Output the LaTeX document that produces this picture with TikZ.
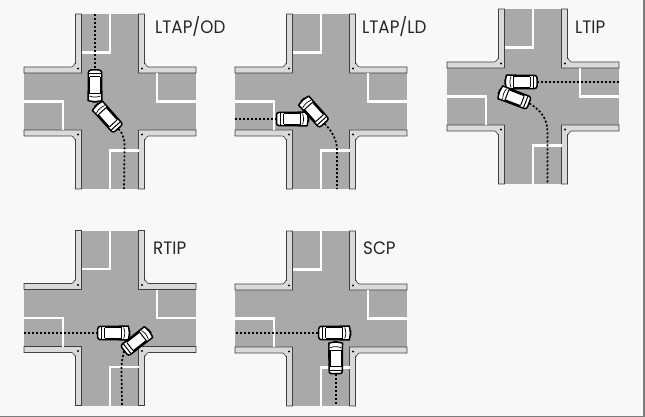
\documentclass[tikz,border=0pt]{standalone}
\usepackage{fontspec}
\setmainfont{Poppins}[FakeStretch=0.93]
\definecolor{roadgray}{HTML}{A9A9A9}
\definecolor{curbgray}{HTML}{DADADA}
\definecolor{paper}{HTML}{F8F8F8}
\definecolor{rimgray}{HTML}{7C7C7C}
\tikzset{
 stopline/.style={white,line width=2.2pt},
 curb/.style={fill=curbgray,draw=black!75,line width=0.6pt},
 track/.style={black,line width=1.7pt,dash pattern=on 2pt off 2pt},
 caselabel/.style={anchor=base west,inner sep=0pt,font=\fontsize{18}{18}\selectfont,text=black!85},
 crossing/.pic={
  \fill[roadgray] (-28.5,-87.5) rectangle (28.5,87.5);
  \fill[roadgray] (-86,-28.5) rectangle (86,28.5);
  % the four corners
  \foreach \sx/\sy in {-1/-1,1/-1,-1/1,1/1}{
   \draw[curb,xscale=\sx,yscale=\sy] (34.5,87.5) -- (34.5,38) to[out=-90,in=180] (38.5,34.5) -- (86,34.5) -- (86,28.5) -- (28.5,28.5) -- (28.5,87.5) -- cycle;
   \fill[black,xscale=\sx,yscale=\sy] (32,33) circle (1.1pt);
  }
  % lane markings
  \draw[stopline] (0,-87.5) -- (0,-49) -- (-28.5,-49);
  \draw[stopline] (86,0) -- (47,0) -- (47,-28.5);
  \draw[stopline] (0,87.5) -- (0,49) -- (28.5,49);
  \draw[stopline] (-86,0) -- (-47,0) -- (-47,28.5);
 },
 car/.pic={
  \draw[fill=white,line width=1.5pt,rounded corners=2.5pt] (-16,-6.6) -- (12,-6.8) to[out=0,in=-90] (16,0) to[out=90,in=0] (12,6.8) -- (-16,6.6) -- cycle;
  \fill[black] (-9,-6.8) rectangle (8,-4.8);
  \fill[black] (-9,6.8) rectangle (8,4.8);
  \draw[line width=1pt] (-9,-4.8) -- (-9,4.8);
  \draw[line width=1pt] (-12.5,-6) -- (-12.5,6);
  \draw[line width=1pt] (7.5,-4.8) -- (7.5,4.8);
  \draw[line width=0.7pt] (10,-5.5) to[bend left=20] (10,5.5);
  \coordinate (-rear) at (-16.5,0);
 }
}
\begin{document}
\begin{tikzpicture}[x=1pt,y=-1pt]
 \fill[paper] (0,0) rectangle (645,417);
 \fill[rimgray] (643,0) rectangle (645,417);
 \fill[rimgray] (0,415.5) rectangle (645,417);
 \useasboundingbox (0,0) rectangle (645,417);
 \foreach \cx/\cy in {110/101.5,321/101.5,533/96.5,110/318,321/318.5}
 \pic at (\cx,\cy) {crossing};

 % LTAP/OD
 \pic[rotate=-90] (oda) at (95,86) {car};
 \pic[rotate=132] (odb) at (107.3,116.7) {car};
 \coordinate (odtop) at (95,14);
 \coordinate (odbot) at (124,189);
 \draw[track] (odtop) -- (oda-rear);
 \draw[track] (odb-rear) .. controls (124,134) and (125,142) .. (124.5,150) -- (odbot);
 \node[caselabel] (odlab) at (155,34) {LTAP/OD};

 % LTAP/LD
 \pic[rotate=0] (lda) at (292.5,119) {car};
 \pic[rotate=132] (ldb) at (313.5,111.5) {car};
 \coordinate (ldleft) at (235,119);
 \coordinate (ldbot) at (337,189);
 \draw[track] (ldleft) -- (lda-rear);
 \draw[track] (ldb-rear) .. controls (332,131) and (337,140) .. (337,150) -- (ldbot);
 \node[caselabel] (ldlab) at (362,34) {LTAP/LD};

 % LTIP
 \pic[rotate=180] (lia) at (521,82) {car};
 \pic[rotate=159] (lib) at (514,97.5) {car};
 \coordinate (liright) at (619,82);
 \coordinate (libot) at (547.5,184);
 \draw[track] (liright) -- (lia-rear);
 \draw[track] (lib-rear) .. controls (540,110) and (547.5,118) .. (547.5,132) -- (libot);
 \node[caselabel] (lilab) at (575,34) {LTIP};

 % RTIP
 \pic[rotate=0] (rta) at (113.7,333) {car};
 \pic[rotate=38] (rtb) at (137,341) {car};
 \coordinate (rtleft) at (24,333);
 \coordinate (rtbot) at (122,405);
 \draw[track] (rtleft) -- (rta-rear);
 \draw[track] (rtb-rear) .. controls (124,354) and (121.5,358) .. (121.5,370) -- (rtbot);
 \node[caselabel] (rtlab) at (153,254) {RTIP};

 % SCP
 \pic[rotate=0] (sca) at (334.7,333) {car};
 \pic[rotate=90] (scb) at (335.7,357.7) {car};
 \coordinate (scleft) at (236,333);
 \coordinate (scbot) at (335.7,406);
 \draw[track] (scleft) -- (sca-rear);
 \draw[track] (scb-rear) -- (scbot);
 \node[caselabel] (sclab) at (363,254) {SCP};
\end{tikzpicture}
\end{document}
